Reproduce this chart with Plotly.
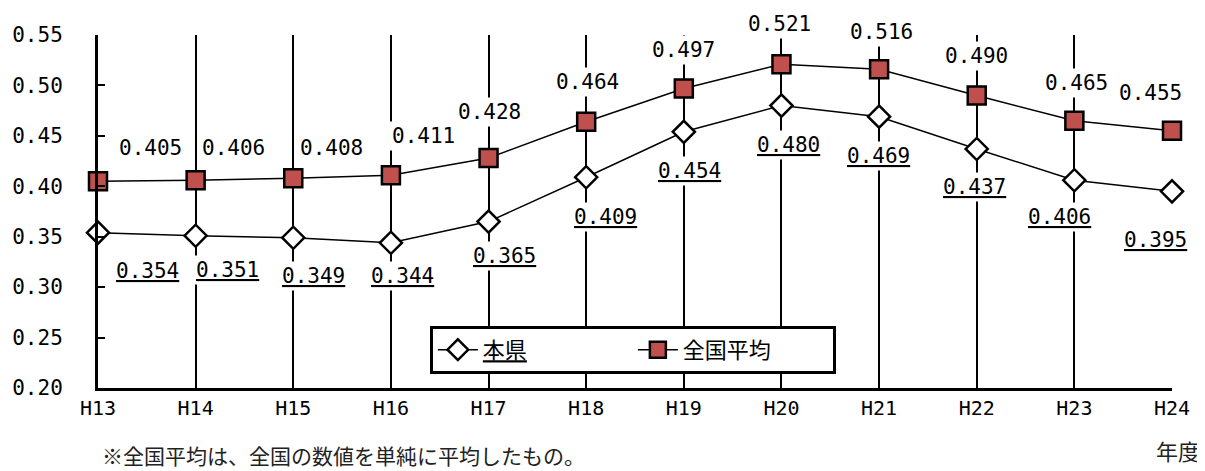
import plotly.graph_objects as go

categories = ["H13", "H14", "H15", "H16", "H17", "H18", "H19", "H20", "H21", "H22", "H23", "H24"]
pref_values = [0.354, 0.351, 0.349, 0.344, 0.365, 0.409, 0.454, 0.480, 0.469, 0.437, 0.406, 0.395]
natl_values = [0.405, 0.406, 0.408, 0.411, 0.428, 0.464, 0.497, 0.521, 0.516, 0.490, 0.465, 0.455]
y_ticks = [0.20, 0.25, 0.30, 0.35, 0.40, 0.45, 0.50, 0.55]

# label placement offsets (pixels), as in the reference layout
natl_dx = [52, 38, 38, 33, 1, 1, 0, -2, 2, 0, 2, -22]
natl_dy = [33, 32, 30, 39, 46, 40, 38, 40, 37, 40, 38, 38]
pref_dx = [49, 32, 20, 12, 16, 19, 6, 7, -1, -2, -15, -17]
pref_dy = [-38, -34, -38, -33, -34, -40, -39, -39, -39, -38, -37, -49]

NUM_FONT = "DejaVu Sans Mono"
JP_FONT = "Noto Sans CJK JP"
xs = list(range(len(categories)))

fig = go.Figure()
fig.add_trace(go.Scatter(
    x=xs, y=pref_values, mode="lines+markers", name="<u>本県</u>",
    line=dict(color="black", width=1.5),
    marker=dict(symbol="diamond", size=17, color="white", line=dict(color="black", width=2.5)),
))
fig.add_trace(go.Scatter(
    x=xs, y=natl_values, mode="lines+markers", name="全国平均",
    line=dict(color="black", width=1.5),
    marker=dict(symbol="square", size=18, color="#C0504D", line=dict(color="black", width=2.5)),
))

annotations = []
for i, v in enumerate(natl_values):
    annotations.append(dict(
        x=xs[i], y=v, xref="x", yref="y", text=f"{v:.3f}", showarrow=False,
        xshift=natl_dx[i], yshift=natl_dy[i], bgcolor="white", borderpad=2,
        font=dict(family=NUM_FONT, size=21, color="black"),
    ))
for i, v in enumerate(pref_values):
    annotations.append(dict(
        x=xs[i], y=v, xref="x", yref="y", text=f"<u>{v:.3f}</u>", showarrow=False,
        xshift=pref_dx[i], yshift=pref_dy[i], bgcolor="white", borderpad=2,
        font=dict(family=NUM_FONT, size=21, color="black"),
    ))
annotations.append(dict(
    x=1.0055, y=-0.175, xref="paper", yref="paper", text="年度", showarrow=False,
    xanchor="center", yanchor="middle", font=dict(family=JP_FONT, size=22, color="#222"),
))
annotations.append(dict(
    x=0.002, y=-0.19, xref="paper", yref="paper",
    text="※全国平均は、全国の数値を単純に平均したもの。", showarrow=False,
    xanchor="left", yanchor="middle", font=dict(family=JP_FONT, size=21, color="#222"),
))

# page body has an 8px default margin, so the figure is sized to fit the window
fig.update_layout(
    width=1197, height=463,
    margin=dict(l=90, r=33, t=27, b=83, autoexpand=False),
    paper_bgcolor="white", plot_bgcolor="white",
    showlegend=True,
    legend=dict(
        orientation="h", x=0.309, y=0.176, xanchor="left", yanchor="top",
        bgcolor="white", bordercolor="black", borderwidth=3,
        font=dict(family=JP_FONT, size=22, color="black"),
        itemwidth=40, entrywidth=145,
    ),
    annotations=annotations,
    xaxis=dict(
        range=[0, len(categories) - 1], tickmode="array", tickvals=xs, ticktext=categories,
        showgrid=True, gridcolor="black", gridwidth=1.5,
        showline=True, linecolor="black", linewidth=3,
        ticks="", zeroline=False, automargin=False,
        tickfont=dict(family=NUM_FONT, size=20, color="black"),
    ),
    yaxis=dict(
        range=[0.20, 0.55], tickmode="array", tickvals=y_ticks,
        ticktext=[f"{t:.2f}" for t in y_ticks],
        showgrid=False, zeroline=False, automargin=False,
        showline=True, linecolor="black", linewidth=3,
        ticks="inside", ticklen=7, tickwidth=2, tickcolor="black",
        ticklabelstandoff=28,
        tickfont=dict(family=NUM_FONT, size=21, color="black"),
    ),
)
fig.update_traces(cliponaxis=False)

fig.write_html("out.html")
